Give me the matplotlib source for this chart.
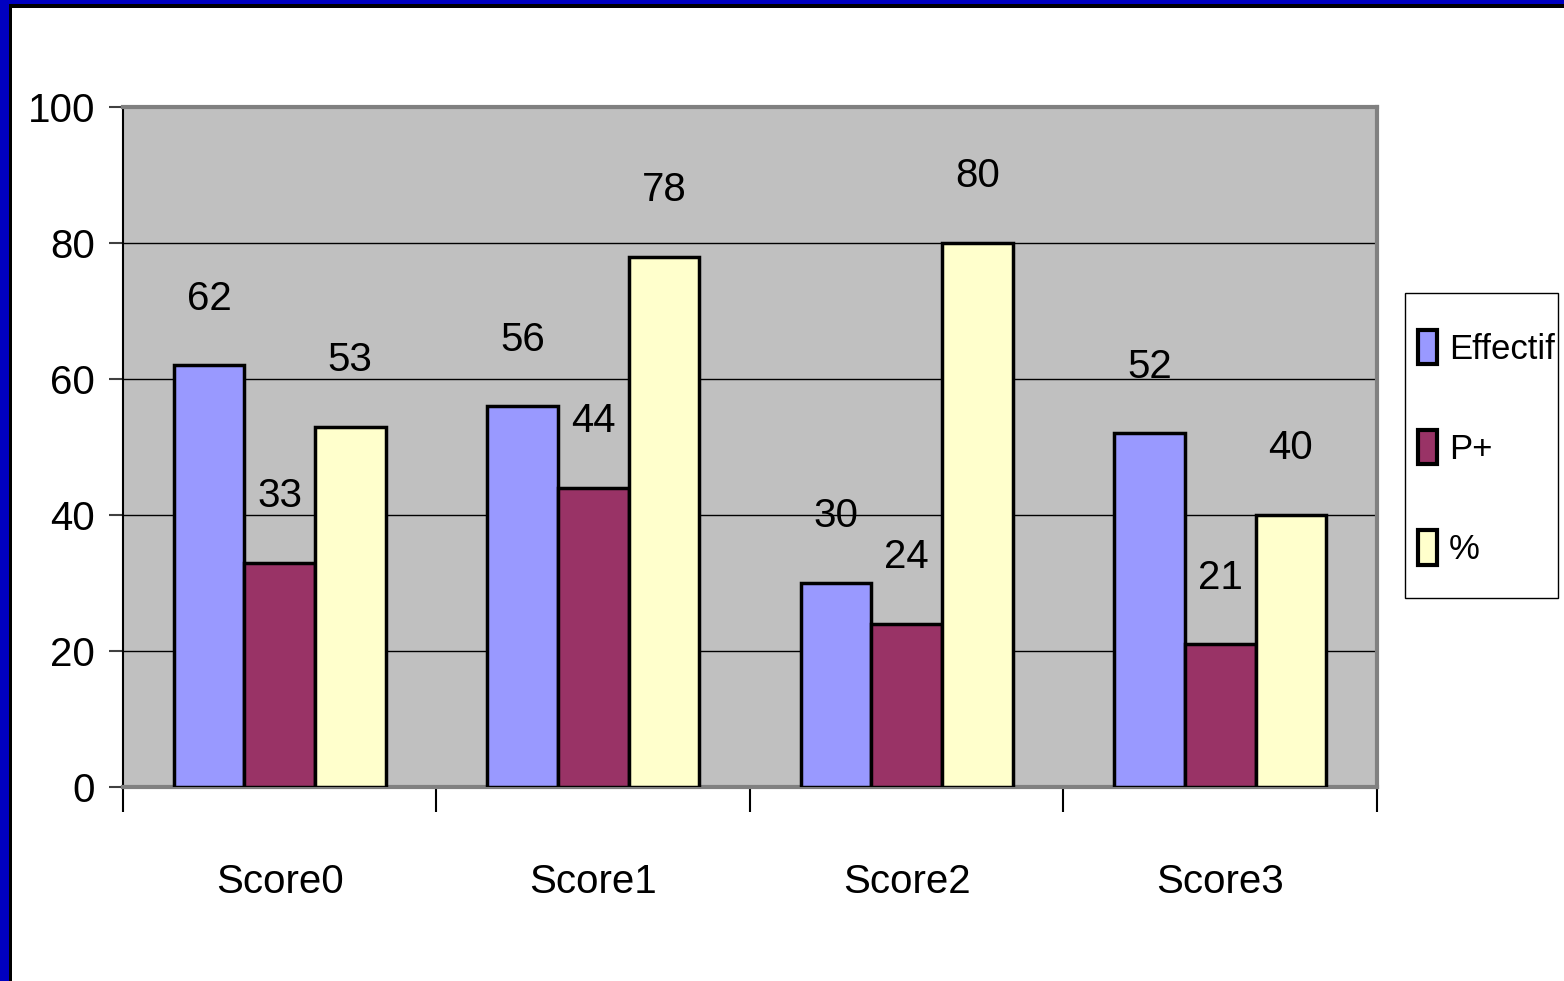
import numpy as np
import matplotlib
matplotlib.use('Agg')
import matplotlib.pyplot as plt
from matplotlib.patches import Rectangle

# Daten
kategorien = ['Score0', 'Score1', 'Score2', 'Score3']
effectif = [62, 56, 30, 52]
p_plus = [33, 44, 24, 21]
prozent = [53, 78, 80, 40]
serien_namen = ['Effectif', 'P+', '%']
y_ticks = [0, 20, 40, 60, 80, 100]

farben = ['#9999FF', '#993366', '#FFFFCC']

plt.rcParams['font.family'] = ['Liberation Sans', 'DejaVu Sans']

W, H = 1564, 981
fig = plt.figure(figsize=(W / 100, H / 100), dpi=100)
fig.patch.set_facecolor('white')

# blauer Rahmen links und oben
fig.patches.append(Rectangle((0, 0), 9 / W, 1, transform=fig.transFigure,
                             facecolor='#0000C0', edgecolor='none', zorder=0))
fig.patches.append(Rectangle((9 / W, 0), 3 / W, 1 - 3 / H, transform=fig.transFigure,
                             facecolor='black', edgecolor='none', zorder=0))
fig.patches.append(Rectangle((0, 1 - 4 / H), 1, 4 / H, transform=fig.transFigure,
                             facecolor='#0000C0', edgecolor='none', zorder=0))
fig.patches.append(Rectangle((9 / W, 1 - 8 / H), 1, 4 / H, transform=fig.transFigure,
                             facecolor='black', edgecolor='none', zorder=0))

ax = fig.add_axes([123 / W, (H - 787) / H, (1377 - 123) / W, (787 - 107) / H])
ax.set_facecolor('#C0C0C0')

x = np.arange(len(kategorien))
breite = 0.225
for i, (werte, name) in enumerate(zip([effectif, p_plus, prozent], serien_namen)):
    pos = x + (i - 1) * breite
    bars = ax.bar(pos, werte, breite, color=farben[i], edgecolor='black',
                  linewidth=2.5, label=name, zorder=3)
    for b, v in zip(bars, werte):
        ax.annotate(str(v), (b.get_x() + b.get_width() / 2, v), xytext=(0, 40),
                    textcoords='offset points', ha='center', va='baseline',
                    fontsize=29, zorder=4)

ax.set_xlim(-0.5, len(kategorien) - 0.5)
ax.set_ylim(0, 100)
ax.set_yticks(y_ticks)
ax.set_yticklabels([str(t) for t in y_ticks], fontsize=29)
ax.yaxis.grid(True, color='black', linewidth=1)
ax.set_axisbelow(True)

ax.set_xticks(x)
ax.set_xticklabels(kategorien, fontsize=29)
ax.tick_params(axis='x', length=0, pad=55)
ax.set_xticks(np.arange(len(kategorien) + 1) - 0.5, minor=True)
ax.tick_params(axis='x', which='minor', length=18, width=1.5, color='black')
ax.tick_params(axis='y', length=10, width=1.5, color='#404040', pad=10)

for s in ['top', 'right', 'bottom']:
    ax.spines[s].set_color('#808080')
    ax.spines[s].set_linewidth(3)
ax.spines['left'].set_color('black')
ax.spines['left'].set_linewidth(1.5)

# Legende mit eigenem Rahmen
rahmen = Rectangle((1405 / W, (H - 598) / H), 153 / W, 305 / H, transform=fig.transFigure,
                   facecolor='white', edgecolor='black', linewidth=1, clip_on=False, zorder=4)
ax.add_patch(rahmen)
leg = ax.legend(loc='center left', bbox_to_anchor=(1418 / W, (H - 448) / H),
                bbox_transform=fig.transFigure, fontsize=25, frameon=False,
                handlelength=0.55, handleheight=1.15, handletextpad=0.35,
                labelspacing=1.85, borderpad=0, borderaxespad=0)
leg.set_zorder(5)
for h in leg.legend_handles:
    h.set_linewidth(3)

fig.savefig('out.png', dpi=100)
